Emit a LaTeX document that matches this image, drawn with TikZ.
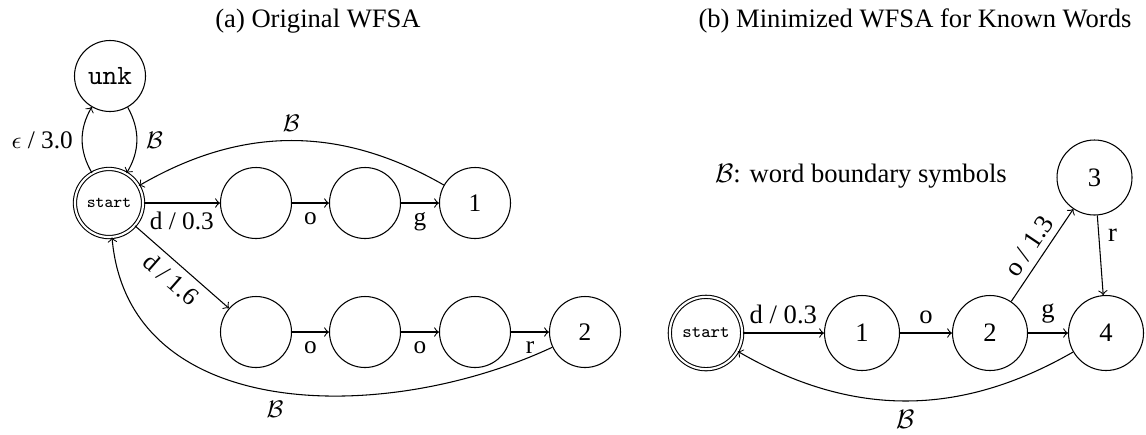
\documentclass[tikz,border=0pt]{standalone}
\usepackage{fontspec}
\setmainfont{Liberation Serif}
\begin{document}
\begin{tikzpicture}[x=0.376pt,y=-0.376pt,
  stL/.style={circle,draw,line width=0.4pt,minimum size=26.7pt,inner sep=0pt},
  stR/.style={circle,draw,line width=0.4pt,minimum size=28.2pt,inner sep=0pt},
  accL/.style={circle,draw,line width=0.4pt,double,double distance=0.8pt,minimum size=25.6pt,inner sep=0pt},
  accR/.style={circle,draw,line width=0.4pt,double,double distance=0.8pt,minimum size=27.2pt,inner sep=0pt},
  lblL/.style={font=\fontsize{9.5}{11}\selectfont},
  lblR/.style={font=\fontsize{10}{12}\selectfont},
  arr/.style={->,line width=0.4pt}]
\useasboundingbox (0,0) rectangle (1146,434);

% titles
\node[anchor=base] (ta) at (318,27.5) {(a) Original WFSA};
\node[anchor=base] (tb) at (915,27.5) {(b) Minimized WFSA for Known Words};

% ---------- (a) ----------
\node[stL,font=\fontsize{10.5}{12}\ttfamily] (unk) at (110,76) {unk};
\node[accL,font=\fontsize{6.3}{7}\ttfamily] (start) at (109,203) {start};
\node[stL] (a1) at (256,203) {};
\node[stL] (a2) at (365,203) {};
\node[stL,lblL] (n1) at (475,203) {1};
\node[stL] (b1) at (256,332) {};
\node[stL] (b2) at (365,332) {};
\node[stL] (b3) at (475,332) {};
\node[stL,lblL] (n2) at (585,332) {2};

\draw[arr] (start) to[bend left=30] node[left,lblL] {$\epsilon$ / 3.0} (unk);
\draw[arr] (unk) to[bend left=30] node[right,lblL] {$\mathcal{B}$} (start);
\draw[arr] (start) -- node[below,lblL] {d / 0.3} (a1);
\draw[arr] (a1) -- node[below,lblL] {o} (a2);
\draw[arr] (a2) -- node[below,lblL] {g} (n1);
\draw[arr] (n1) to[bend right=30] node[above,lblL] {$\mathcal{B}$} (start);
\draw[arr] (start) -- node[below,sloped,lblL,inner sep=2.5pt] {d / 1.6} (b1);
\draw[arr] (b1) -- node[below,lblL] {o} (b2);
\draw[arr] (b2) -- node[below,lblL] {o} (b3);
\draw[arr] (b3) -- node[below,lblL] {r} (n2);
\draw[arr] (n2) to[out=205,in=-85,looseness=1.05] node[below,lblL] {$\mathcal{B}$} (start);

% ---------- (b) ----------
\node[lblR,anchor=base] (legend) at (861,182) {$\mathcal{B}$: word boundary symbols};
\node[accR,font=\fontsize{6.7}{7}\ttfamily] (s2) at (706,333) {start};
\node[stR,lblR] (r1) at (862,333) {1};
\node[stR,lblR] (r2) at (990,333) {2};
\node[stR,lblR] (r3) at (1094.5,177.5) {3};
\node[stR,lblR] (r4) at (1106,333) {4};

\draw[arr] (s2) -- node[above,lblR] {d / 0.3} (r1);
\draw[arr] (r1) -- node[above,lblR] {o} (r2);
\draw[arr] (r2) -- node[above,lblR] {g} (r4);
\draw[arr] (r2) -- node[above,sloped,lblR,inner sep=2.5pt] {o / 1.3} (r3);
\draw[arr] (r3) -- node[right,near start,lblR] {r} (r4);
\draw[arr] (r4) to[bend left=30] node[below,lblR] {$\mathcal{B}$} (s2);
\end{tikzpicture}
\end{document}
